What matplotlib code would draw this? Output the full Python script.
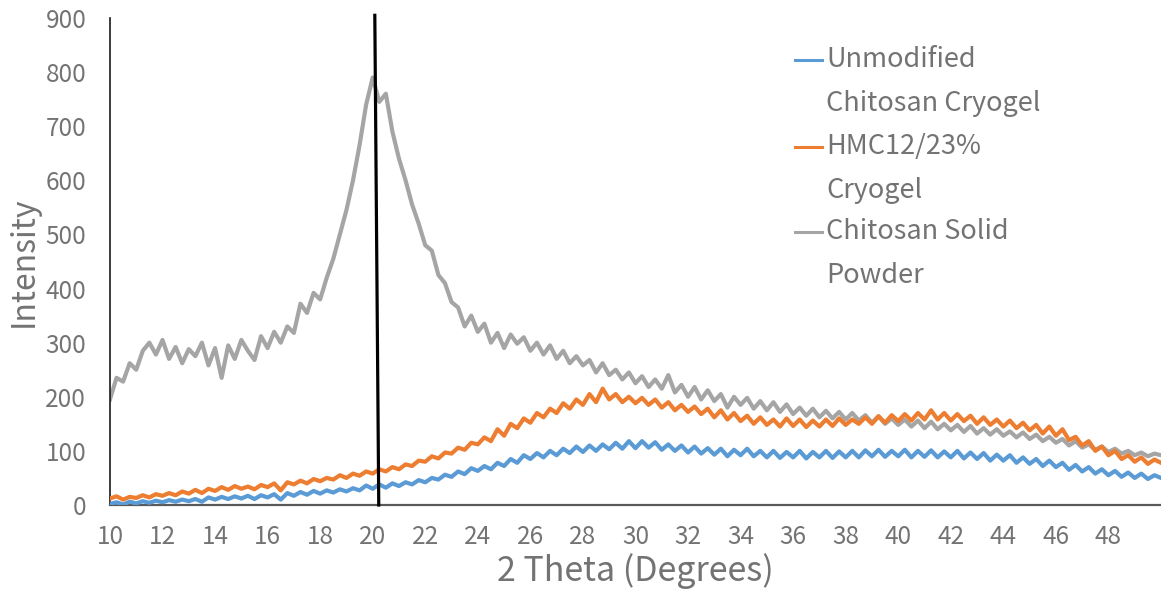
import numpy as np
import matplotlib
matplotlib.use("Agg")
import matplotlib.pyplot as plt

plt.rcParams['font.family'] = ['Noto Sans CJK JP', 'DejaVu Sans']

# 2 theta grid (degrees), 0.25 step
two_theta = np.arange(10, 50.001, 0.25)

# Unmodified Chitosan Cryogel
unmodified = [
    2, 5, 1, 6, 3, 7, 4, 8, 5, 9, 6, 10, 7, 11, 6, 14, 10, 15, 11, 16,
    12, 17, 11, 18, 14, 20, 10, 22, 17, 24, 19, 26, 21, 27, 23, 29, 25, 31, 27, 36,
    30, 38, 32, 40, 35, 42, 38, 46, 42, 50, 47, 56, 52, 62, 57, 68, 63, 72, 66, 78,
    72, 85, 78, 92, 85, 96, 88, 100, 92, 104, 96, 108, 98, 110, 100, 112, 103, 115, 104, 118,
    105, 118, 106, 116, 102, 112, 100, 110, 97, 108, 95, 105, 93, 104, 90, 102, 92, 104, 90, 100,
    88, 100, 87, 98, 88, 100, 86, 98, 88, 100, 87, 99, 88, 100, 88, 101, 90, 102, 89, 100,
    90, 102, 88, 100, 89, 101, 88, 99, 88, 100, 86, 97, 85, 96, 82, 93, 82, 92, 78, 88,
    76, 85, 72, 82, 70, 78, 65, 74, 62, 70, 58, 66, 55, 63, 52, 60, 50, 58, 48, 55,
    50,
]

# HMC12/23% Cryogel
hmc = [
    12, 16, 10, 15, 13, 18, 14, 20, 17, 22, 18, 25, 21, 28, 22, 30, 26, 33, 28, 35,
    30, 34, 29, 37, 33, 40, 27, 42, 38, 45, 40, 48, 44, 50, 47, 55, 50, 58, 54, 62,
    58, 66, 62, 70, 66, 75, 72, 82, 80, 90, 86, 97, 95, 106, 102, 115, 112, 125, 118, 140,
    128, 150, 142, 160, 152, 170, 162, 178, 170, 188, 178, 195, 185, 205, 190, 215, 195, 205, 190, 200,
    188, 198, 185, 195, 180, 190, 175, 185, 172, 182, 168, 178, 162, 175, 158, 170, 155, 165, 150, 162,
    148, 158, 145, 160, 146, 158, 144, 156, 145, 158, 146, 160, 148, 158, 150, 162, 150, 164, 152, 166,
    155, 168, 156, 170, 158, 175, 158, 170, 156, 168, 155, 165, 150, 162, 148, 158, 145, 156, 142, 152,
    138, 148, 132, 145, 128, 140, 120, 126, 110, 118, 100, 108, 92, 100, 85, 92, 80, 88, 76, 84,
    78,
]

# Chitosan Solid Powder
powder = [
    195, 235, 228, 262, 250, 285, 300, 278, 305, 270, 292, 262, 288, 275, 300, 258, 290, 235, 295, 270,
    305, 285, 268, 312, 290, 320, 300, 330, 318, 372, 355, 392, 380, 420, 455, 500, 545, 600, 665, 740,
    790, 745, 760, 690, 640, 600, 555, 520, 480, 470, 425, 410, 375, 365, 330, 350, 320, 335, 300, 318,
    290, 315, 298, 310, 285, 300, 278, 295, 270, 285, 262, 275, 258, 268, 245, 262, 240, 250, 232, 245,
    225, 238, 218, 232, 215, 240, 208, 222, 200, 218, 195, 212, 192, 205, 180, 200, 185, 198, 178, 192,
    175, 190, 172, 186, 168, 180, 165, 178, 162, 174, 160, 172, 158, 170, 156, 166, 152, 164, 150, 160,
    148, 158, 145, 156, 142, 154, 140, 150, 138, 148, 135, 146, 132, 142, 130, 140, 128, 136, 125, 134,
    122, 130, 118, 126, 115, 122, 110, 118, 106, 112, 102, 108, 98, 104, 95, 100, 92, 97, 90, 95,
    92,
]

labels = [["Unmodified", "Chitosan Cryogel"], ["HMC12/23%", "Cryogel"], ["Chitosan Solid", "Powder"]]
colors = ["#5B9BD5", "#ED7D31", "#A5A5A5"]
marker_line_x = [20.08, 20.23]
marker_line_y = [905, 0]

text_color = "#737373"

fig = plt.figure(figsize=(11.61, 5.96), dpi=100)
ax = fig.add_axes([0.0947, 0.1527, 0.9053, 0.8171])

# draw the series (grey first at the back, as in the chart)
ax.plot(two_theta, powder, color=colors[2], lw=3.0, zorder=2)
ax.plot(two_theta, hmc, color=colors[1], lw=3.0, zorder=3)
ax.plot(two_theta, unmodified, color=colors[0], lw=3.0, zorder=4)

# vertical reference line near the main peak
ax.plot(marker_line_x, marker_line_y, color="black", lw=2.3, clip_on=False, zorder=5)

ax.set_xlim(10, 50)
ax.set_ylim(0, 900)
ax.set_xticks(np.arange(10, 49, 2))
ax.set_yticks(np.arange(0, 901, 100))
ax.tick_params(length=0, labelsize=17.5, colors=text_color)
ax.tick_params(axis="y", pad=17)
ax.tick_params(axis="x", pad=14)

for s in ["top", "right"]:
    ax.spines[s].set_visible(False)
ax.spines["left"].set_color("#1a1a1a")
ax.spines["left"].set_linewidth(1.2)
ax.spines["bottom"].set_color("#595959")
ax.spines["bottom"].set_linewidth(1.6)

ax.set_xlabel("2 Theta (Degrees)", fontsize=24.5, color=text_color, labelpad=2)
ax.set_ylabel("Intensity", fontsize=23, color=text_color, labelpad=4)

# legend drawn by hand so the key sits on the first text line
line_y = [60, 147, 232]
for i in range(3):
    y0 = (505 - line_y[i]) / 487
    y1 = (505 - line_y[i] - 44) / 487
    x0 = (795 - 110) / 1051
    x1 = (822 - 110) / 1051
    xt = (826 - 110) / 1051
    ax.plot([x0, x1], [y0, y0], color=colors[i], lw=2.2, transform=ax.transAxes, clip_on=False)
    ax.text(xt, y0, labels[i][0], transform=ax.transAxes, fontsize=19.5, color=text_color, va="center", ha="left")
    ax.text(xt, y1, labels[i][1], transform=ax.transAxes, fontsize=19.5, color=text_color, va="center", ha="left")

fig.savefig("out.png", dpi=100)
